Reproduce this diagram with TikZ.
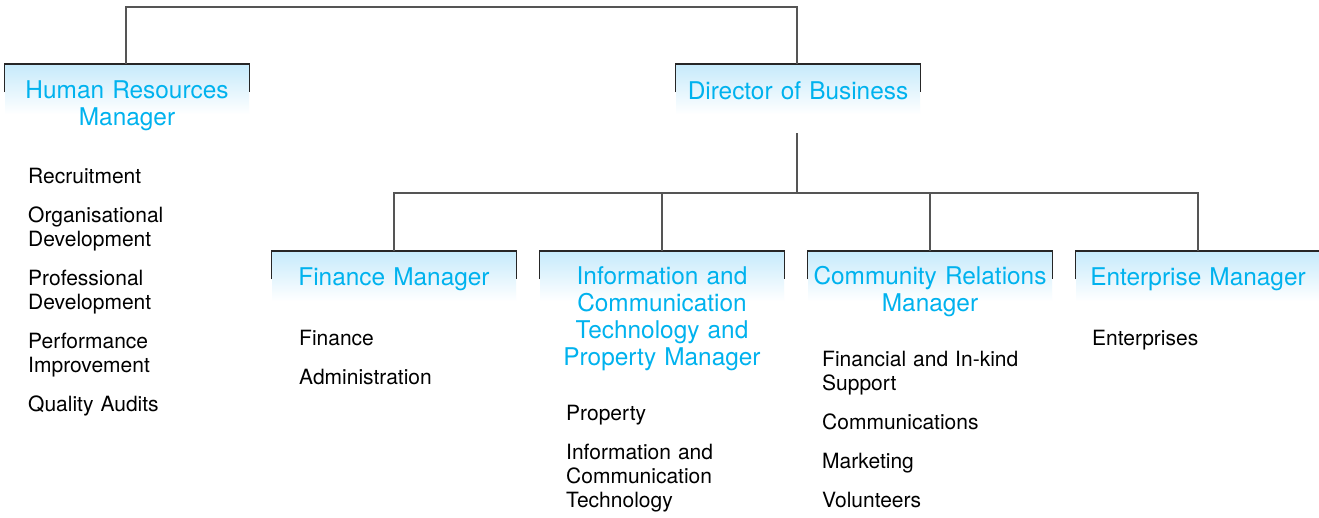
\documentclass[tikz,border=0pt]{standalone}
\usepackage{fontspec}
\setmainfont{TeX Gyre Heros}
\definecolor{headblue}{RGB}{0,178,238}
\definecolor{shadeblue}{RGB}{198,234,251}
\definecolor{linegray}{RGB}{85,85,85}
\begin{document}
\begin{tikzpicture}[x=1pt,y=-1pt,
  boxhead/.style={anchor=north,minimum width=244pt,minimum height=50pt,
    inner sep=0pt,top color=shadeblue,bottom color=white,draw=none},
  boxrim/.style={draw=black!85,line width=1.2pt},
  edge/.style={draw=linegray,line width=1.2pt},
  title/.style={anchor=base,text width=244pt,align=center,inner sep=0pt,
    text=headblue,font=\fontsize{24.4}{27}\selectfont},
  duties/.style={anchor=base west,text width=240pt,align=left,inner sep=0pt,
    font=\fontsize{21}{24}\selectfont}]
\useasboundingbox (0,0) rectangle (1319,517);
\fill[white] (0,0) rectangle (1319,517);

% header boxes: shaded band with a top rule and short side ticks
\node[boxhead] (hrbox)  at (127,64)   {};
\node[boxhead] (dirbox) at (798,64)   {};
\node[boxhead] (finbox) at (394,251)  {};
\node[boxhead] (ictbox) at (662,251)  {};
\node[boxhead] (crbox)  at (930,251)  {};
\node[boxhead] (entbox) at (1198,251) {};
\foreach \b in {hrbox,dirbox,finbox,ictbox,crbox,entbox}{
  \draw[boxrim] ([yshift=-28pt]\b.north west) |- (\b.north east) -- ++(0,28);
}

% titles
\node[title] (hr)  at (127,98)  {Human Resources\\Manager};
\node[title] (dir) at (798,99)  {Director of Business};
\node[title] (fin) at (394,285) {Finance Manager};
\node[title] (ict) at (662,284) {Information and\\Communication\\Technology and\\Property Manager};
\node[title] (cr)  at (930,284) {Community Relations\\Manager};
\node[title] (ent) at (1198,285) {Enterprise Manager};

% connectors
\coordinate (top) at (460,7);
\coordinate (dirlow) at (797,133);
\coordinate (bus) at (797,193);
\draw[edge] ([xshift=-1pt]hrbox.north) |- (top) -| ([xshift=-1pt]dirbox.north);
\draw[edge] (dirlow) -- (bus);
\draw[edge] (finbox.north) |- (bus) -| (entbox.north);
\draw[edge] (ictbox.north) -- (ictbox.north |- bus);
\draw[edge] (crbox.north) -- (crbox.north |- bus);

% responsibilities
\node[duties] (hrlist) at (28,183) {Recruitment\\[15pt]
  Organisational\\Development\\[15pt]
  Professional\\Development\\[15pt]
  Performance\\Improvement\\[15pt]
  Quality Audits};
\node[duties] (finlist) at (299,345) {Finance\\[15pt]Administration};
\node[duties] (ictlist) at (566,420) {Property\\[15pt]
  Information and\\Communication\\Technology};
\node[duties] (crlist) at (822,366) {Financial and In-kind\\Support\\[15pt]
  Communications\\[15pt]Marketing\\[15pt]Volunteers};
\node[duties] (entlist) at (1092,345) {Enterprises};
\end{tikzpicture}
\end{document}
